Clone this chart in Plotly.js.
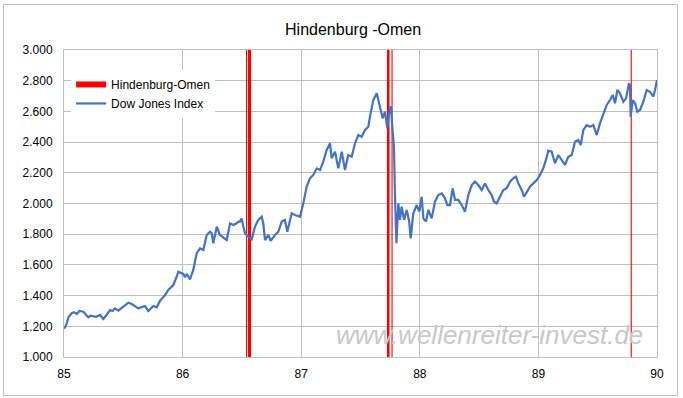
<!DOCTYPE html>
<html><head><meta charset="utf-8">
<script src="https://cdn.plot.ly/plotly-3.0.1.min.js"></script>
<style>
html,body{margin:0;padding:0;background:#fff}
#chart{width:683px;height:398px;position:absolute;left:0;top:0}
#frame{position:absolute;left:3px;top:4px;width:673px;height:390px;border:1px solid #bfbfbf;pointer-events:none}
</style>
</head><body>
<div id="chart"></div><div id="frame"></div>
<script>
// Dow Jones Index, 1985-1990 (fractional years)
const dowYears = [85.000,85.012,85.023,85.040,85.065,85.085,85.107,85.130,85.163,85.185,85.205,85.225,85.247,85.270,85.304,85.331,85.355,85.388,85.410,85.430,85.458,85.480,85.500,85.520,85.542,85.571,85.600,85.626,85.655,85.683,85.711,85.733,85.753,85.782,85.809,85.830,85.852,85.879,85.900,85.922,85.950,85.964,85.985,86.006,86.020,86.035,86.062,86.090,86.119,86.147,86.175,86.203,86.231,86.246,86.259,86.288,86.315,86.343,86.372,86.400,86.428,86.456,86.470,86.484,86.498,86.512,86.526,86.554,86.583,86.610,86.638,86.667,86.680,86.695,86.723,86.743,86.779,86.807,86.836,86.863,86.883,86.920,86.948,86.990,87.018,87.046,87.074,87.102,87.131,87.159,87.186,87.215,87.243,87.257,87.285,87.313,87.342,87.369,87.397,87.426,87.454,87.482,87.510,87.538,87.566,87.580,87.608,87.637,87.659,87.687,87.707,87.721,87.726,87.743,87.757,87.768,87.782,87.791,87.797,87.803,87.819,87.833,87.847,87.867,87.889,87.911,87.923,87.945,87.974,87.996,88.016,88.030,88.052,88.072,88.100,88.128,88.156,88.185,88.212,88.232,88.255,88.277,88.297,88.325,88.353,88.381,88.409,88.438,88.465,88.493,88.522,88.550,88.578,88.606,88.626,88.648,88.676,88.704,88.733,88.761,88.788,88.811,88.831,88.859,88.879,88.901,88.929,88.957,88.986,89.013,89.041,89.070,89.083,89.112,89.140,89.168,89.196,89.224,89.252,89.281,89.309,89.336,89.357,89.379,89.407,89.435,89.463,89.492,89.519,89.547,89.576,89.604,89.627,89.646,89.666,89.688,89.716,89.739,89.764,89.772,89.778,89.795,89.815,89.834,89.857,89.885,89.913,89.941,89.969,89.983,90.000];
const dowValues = [1185,1198,1219,1262,1285,1292,1280,1300,1295,1275,1259,1270,1267,1262,1274,1248,1270,1306,1300,1317,1302,1318,1328,1340,1354,1345,1330,1317,1325,1332,1300,1318,1332,1324,1365,1385,1404,1436,1450,1469,1523,1556,1548,1541,1519,1541,1506,1567,1676,1708,1697,1795,1816,1806,1741,1849,1795,1780,1762,1871,1860,1871,1882,1882,1903,1850,1806,1784,1767,1849,1893,1914,1871,1762,1795,1756,1795,1816,1882,1893,1816,1936,1925,1914,2001,2110,2164,2186,2229,2218,2272,2349,2392,2295,2338,2229,2338,2218,2316,2305,2392,2446,2435,2479,2500,2566,2675,2718,2642,2555,2598,2533,2490,2598,2635,2500,2370,2044,1800,1741,2001,1893,1979,1893,1958,1882,1773,1936,1990,1947,2044,1903,1882,1958,1903,2012,2055,2066,2034,1990,1990,2099,2023,2023,1990,1947,2055,2120,2142,2120,2088,2131,2088,2055,2012,2001,2044,2088,2099,2142,2164,2175,2131,2088,2044,2077,2110,2131,2153,2185,2229,2300,2344,2338,2262,2316,2283,2251,2305,2316,2403,2414,2381,2479,2511,2500,2511,2446,2522,2588,2642,2674,2707,2653,2739,2718,2663,2685,2783,2772,2566,2674,2653,2598,2609,2663,2739,2728,2696,2739,2804];

// Hindenburg-Omen signal dates (fractional years)
const omenYears = [86.539,86.556,86.560,86.564,86.568,86.573,87.728,87.732,87.736,87.740,87.766,89.783];

const xTicks = [85,86,87,88,89,90];
const xTickLabels = ['85','86','87','88','89','90'];
const yMin = 1000, yMax = 3000, yStep = 200;

const omenX = [], omenY = [];
omenYears.forEach(d => { omenX.push(d, d, null); omenY.push(yMin, yMax, null); });

const data = [
  {x: omenX, y: omenY, type: 'scatter', mode: 'lines', name: 'Hindenburg-Omen',
   line: {color: '#ff0000', width: 1.1}, hoverinfo: 'skip'},
  {x: dowYears, y: dowValues, type: 'scatter', mode: 'lines', name: 'Dow Jones Index',
   line: {color: '#4472c4', width: 2.2}}
];

const layout = {
  width: 683, height: 398,
  margin: {l: 64, r: 26, t: 50, b: 41},
  paper_bgcolor: '#ffffff', plot_bgcolor: '#ffffff',
  separators: ',.',
  font: {family: '"Liberation Sans", Arial, sans-serif', size: 12, color: '#000'},
  title: {text: 'Hindenburg -Omen', font: {size: 16, color: '#000'},
          x: 0.517, xref: 'container', xanchor: 'center',
          y: 0.925, yref: 'container', yanchor: 'middle'},
  showlegend: true,
  legend: {x: 0.012, y: 0.935, xanchor: 'left', yanchor: 'top', bgcolor: '#ffffff',
           borderwidth: 0, font: {size: 12, color: '#000'}, itemwidth: 30, tracegroupgap: 0},
  xaxis: {range: [85, 90], tickmode: 'array', tickvals: xTicks, ticktext: xTickLabels,
          showgrid: true, gridcolor: '#bfbfbf', gridwidth: 1, zeroline: false,
          showline: true, linecolor: '#bfbfbf', linewidth: 1, mirror: true,
          ticks: 'outside', ticklen: 6, tickcolor: 'rgba(0,0,0,0)',
          tickfont: {size: 12, color: '#000'}},
  yaxis: {range: [yMin, yMax], dtick: yStep, tick0: yMin, tickformat: ',.0f',
          showgrid: true, gridcolor: '#bfbfbf', gridwidth: 1, zeroline: false,
          showline: true, linecolor: '#bfbfbf', linewidth: 1, mirror: true,
          ticks: 'outside', ticklen: 8, tickcolor: 'rgba(0,0,0,0)',
          tickfont: {size: 12, color: '#000'}},
  annotations: [{text: 'www.wellenreiter-invest.de', xref: 'paper', yref: 'paper',
                 x: 0.98, y: 0.072, xanchor: 'right', yanchor: 'middle', showarrow: false,
                 font: {size: 26, color: '#c8c8c8', family: '"Liberation Sans", Arial, sans-serif', style: 'italic'}}]
};

Plotly.newPlot('chart', data, layout, {staticPlot: true, displayModeBar: false}).then(gd => {
  const items = gd.querySelectorAll('.legend .traces');
  if (items.length) {
    const p = items[0].querySelector('.legendlines path');
    if (p) p.style.strokeWidth = '6px';
  }
});
</script>
</body></html>
